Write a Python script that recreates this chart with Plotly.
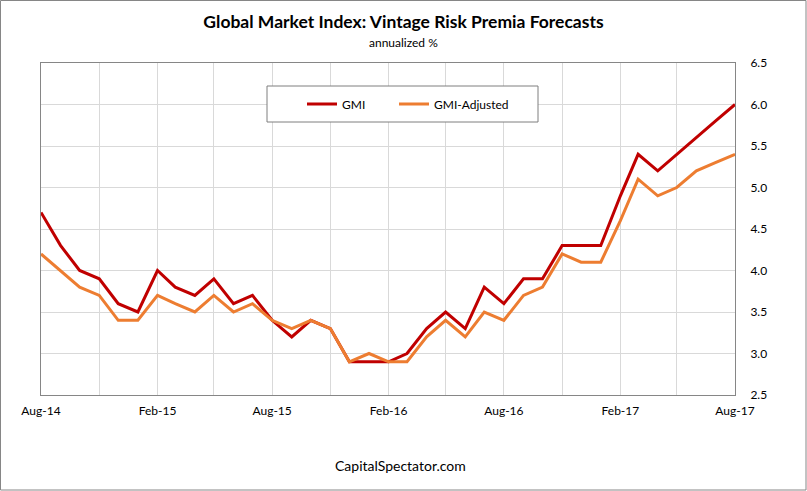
import plotly.graph_objects as go
import pandas as pd

months = pd.date_range("2014-08-01", "2017-08-01", freq="MS")

gmi = [4.7, 4.3, 4.0, 3.9, 3.6, 3.5, 4.0, 3.8, 3.7, 3.9, 3.6, 3.7,
       3.4, 3.2, 3.4, 3.3, 2.9, 2.9, 2.9, 3.0, 3.3, 3.5, 3.3, 3.8,
       3.6, 3.9, 3.9, 4.3, 4.3, 4.3, 4.9, 5.4, 5.2, 5.4, 5.6, 5.8, 6.0]
gmi_adj = [4.2, 4.0, 3.8, 3.7, 3.4, 3.4, 3.7, 3.6, 3.5, 3.7, 3.5, 3.6,
           3.4, 3.3, 3.4, 3.3, 2.9, 3.0, 2.9, 2.9, 3.2, 3.4, 3.2, 3.5,
           3.4, 3.7, 3.8, 4.2, 4.1, 4.1, 4.6, 5.1, 4.9, 5.0, 5.2, 5.3, 5.4]

FONT = "Lato"
L, T, PW, PH = 41, 63, 694, 332


def px(x):
    return (x - L) / PW


def py(y):
    return (T + PH - y) / PH


fig = go.Figure()
fig.add_trace(go.Scatter(x=months, y=gmi, mode="lines", name="GMI",
                         line=dict(color="#C00000", width=3), legend="legend"))
fig.add_trace(go.Scatter(x=months, y=gmi_adj, mode="lines", name="GMI-Adjusted",
                         line=dict(color="#ED7D31", width=3), legend="legend2"))

leg_common = dict(orientation="h", xanchor="left", yanchor="middle",
                  borderwidth=0, bgcolor="rgba(0,0,0,0)",
                  font=dict(family=FONT, size=12), itemwidth=30)

fig.update_layout(
    width=807, height=491,
    margin=dict(l=L, r=807 - L - PW, t=T, b=491 - T - PH),
    paper_bgcolor="white", plot_bgcolor="white",
    font=dict(family=FONT, size=12, color="#000000"),
    showlegend=True,
    legend=dict(x=px(302), y=py(104), **leg_common),
    legend2=dict(x=px(394), y=py(104), **leg_common),
    title=dict(text="<b>Global Market Index: Vintage Risk Premia Forecasts</b>",
               x=403.5 / 807, xref="container", xanchor="center",
               y=1 - 22 / 491, yanchor="middle",
               font=dict(family=FONT, size=17.5)),
)
fig.update_xaxes(
    type="date", range=[months[0], months[-1]],
    dtick="M6", tick0="2014-08-01", tickformat="%b-%y",
    showgrid=True, gridcolor="#d9d9d9", gridwidth=1,
    minor=dict(dtick="M3", tick0="2014-08-01", showgrid=True, gridcolor="#d9d9d9"),
    showline=True, linecolor="#868686", linewidth=1, mirror=True,
    ticks="", ticklabelstandoff=5,
    tickfont=dict(family=FONT, size=12),
)
fig.update_yaxes(
    side="right", range=[2.5, 6.5], dtick=0.5, tickformat=".1f",
    showgrid=True, gridcolor="#d9d9d9", gridwidth=1,
    showline=True, linecolor="#868686", linewidth=1, mirror=True,
    ticks="", ticklabelstandoff=12, zeroline=False,
    tickfont=dict(family=FONT, size=12),
)
fig.add_annotation(text="annualized %", x=px(403.5), y=py(42), xref="paper", yref="paper",
                   showarrow=False, font=dict(family=FONT, size=12), yanchor="middle")
fig.add_annotation(text="CapitalSpectator.com", x=px(400), y=py(465),
                   xref="paper", yref="paper", showarrow=False,
                   font=dict(family=FONT, size=14), yanchor="middle")
# legend frame
fig.add_shape(type="rect", xref="paper", yref="paper",
              x0=px(267), x1=px(538), y0=py(122), y1=py(86),
              line=dict(color="#7f7f7f", width=1), fillcolor="white", layer="above")
# outer chart border
fig.add_shape(type="rect", xref="paper", yref="paper",
              x0=px(0.5), x1=px(806), y0=py(490), y1=py(0.5),
              line=dict(color="#868686", width=1), layer="below")
fig.write_html("out.html", config={"displayModeBar": False},
               post_script="document.body.style.margin='0';")
